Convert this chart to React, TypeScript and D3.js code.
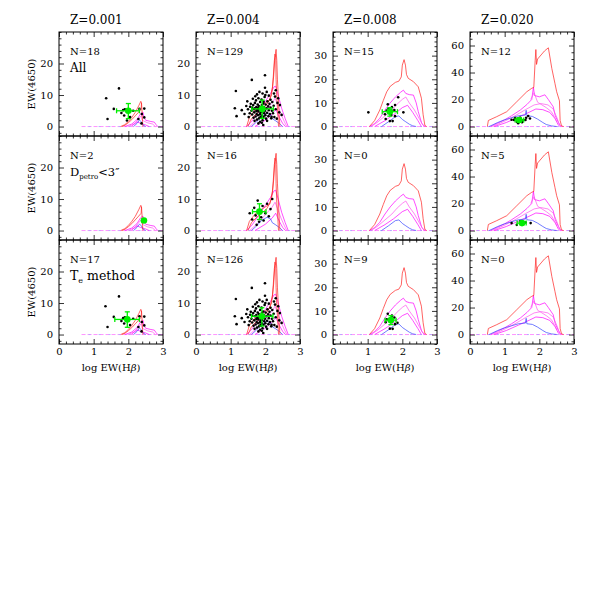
import { useEffect, useRef } from "react";
import * as d3 from "d3";

type Pt = [number, number];
type Mean = { x: number; y: number; x0: number; x1: number; y0: number; y1: number } | null;

// column titles and axis setup
const titles = ["Z=0.001", "Z=0.004", "Z=0.008", "Z=0.020"];
const yDomains: [number, number][] = [[-3, 30], [-3, 30], [-4, 40], [-7, 70]];
const yMajorTicks = [[0, 10, 20], [0, 10, 20], [0, 10, 20, 30], [0, 20, 40, 60]];
const yMinorSteps = [2, 2, 2, 5];
const xMajorTicks = [0, 1, 2, 3];
const sampleCounts = [
  [18, 129, 15, 12],
  [2, 16, 0, 5],
  [17, 126, 9, 0],
];

// model tracks, Z=0.001
const red001: Pt[] = [[1.78, 0], [1.9, 0.6], [2.0, 1.6], [2.1, 2.9], [2.2, 4.5], [2.3, 6.6], [2.36, 8.0], [2.38, 7.5], [2.37, 5.5], [2.3, 4.6], [2.2, 3.4], [2.1, 2.2], [2.0, 1.2], [1.9, 0.4], [1.82, 0]];
const red001b: Pt[] = [[2.38, 7.5], [2.4, 4], [2.41, 1.5], [2.42, 0]];
const mag001a: Pt[] = [[1.9, 0], [2.1, 0.8], [2.25, 2.2], [2.35, 4.0], [2.42, 4.6], [2.45, 3], [2.5, 2], [2.65, 1.6], [2.75, 1.4], [2.8, 0.6], [2.85, 0]];
const mag001b: Pt[] = [[2.0, 0], [2.2, 1], [2.3, 2.5], [2.38, 3.5], [2.4, 2], [2.55, 1.2], [2.7, 0.8], [2.78, 0]];
const mag001c: Pt[] = [[2.1, 0.2], [2.25, 1.5], [2.35, 1.0], [2.5, 0.5], [2.6, 0]];
const blue001: Pt[] = [[2.15, 0], [2.25, 1], [2.32, 2], [2.38, 1.5], [2.42, 0.5], [2.5, 0]];
const base001: Pt[] = [[0.65, 0], [3, 0]];

// Z=0.004
const red004: Pt[] = [[1.46, 0], [1.54, 2.9], [1.7, 5.2], [1.94, 7.1], [2.13, 8.4], [2.21, 12.6], [2.26, 21], [2.31, 24.5], [2.33, 21], [2.35, 14.8], [2.38, 8.4], [2.4, 3.7], [2.42, 0]];
const red004b: Pt[] = [[1.5, 0], [1.6, 2.5], [1.75, 4.2], [2.05, 7.0], [2.18, 10], [2.24, 16], [2.28, 23], [2.3, 22], [2.31, 15], [2.33, 9], [2.36, 4], [2.38, 0]];
const mag004a: Pt[] = [[1.45, 0], [1.6, 1.5], [1.8, 4.7], [2.0, 8], [2.15, 10.5], [2.25, 12.6], [2.3, 12.8], [2.37, 10], [2.47, 5.8], [2.57, 2.6], [2.66, 0]];
const mag004b: Pt[] = [[1.55, 0], [1.8, 2.5], [2.0, 5], [2.2, 7.5], [2.28, 9], [2.35, 7], [2.45, 4], [2.55, 1.5], [2.62, 0]];
const mag004c: Pt[] = [[1.7, 0], [2.0, 2], [2.2, 4], [2.3, 5.5], [2.4, 3], [2.5, 1], [2.58, 0]];
const blue004: Pt[] = [[1.6, 0], [1.75, 1.5], [1.9, 3.3], [2.05, 4.2], [2.15, 3.7], [2.2, 2.5], [2.3, 1.8], [2.4, 1.0], [2.5, 0]];
const base004: Pt[] = [[0.15, 0], [3, 0]];

// Z=0.008
const red008: Pt[] = [[1.05, 0], [1.2, 2.5], [1.35, 7], [1.45, 11], [1.55, 14.7], [1.65, 17], [1.8, 18.7], [1.9, 19.2], [1.97, 21], [2.0, 26], [2.05, 28.3], [2.09, 26], [2.12, 22], [2.17, 20.4], [2.32, 19], [2.46, 16.8], [2.55, 12], [2.6, 5], [2.65, 0.5], [2.7, 0]];
const mag008a: Pt[] = [[1.05, 0], [1.2, 1.2], [1.35, 3.5], [1.5, 7], [1.65, 10], [1.8, 12.5], [1.95, 14.5], [2.03, 15.4], [2.1, 14], [2.2, 13.5], [2.32, 13.3], [2.4, 10], [2.46, 6.3], [2.56, 1.3], [2.65, 0]];
const mag008b: Pt[] = [[1.1, 0], [1.3, 2], [1.5, 4.5], [1.7, 7], [1.85, 9.5], [2.0, 11.5], [2.1, 12.5], [2.2, 10], [2.35, 7], [2.5, 3], [2.6, 0.5], [2.68, 0]];
const mag008c: Pt[] = [[1.2, 0], [1.5, 2.5], [1.75, 5], [2.0, 8], [2.15, 9], [2.3, 6], [2.45, 2.5], [2.55, 0]];
const blue008: Pt[] = [[1.4, 0], [1.6, 2], [1.8, 4.2], [1.9, 4.5], [2.0, 3], [2.1, 2], [2.2, 1], [2.3, 0.3], [2.4, 0]];
const base008: Pt[] = [[0, 0], [3, 0]];

// Z=0.020
const red020: Pt[] = [[0.5, 0], [0.53, 4.5], [0.77, 7.3], [1.06, 11], [1.35, 18.4], [1.64, 25.8], [1.78, 28.3], [1.84, 29], [1.88, 49], [1.9, 57], [1.92, 46], [1.95, 50], [2.05, 53], [2.15, 56], [2.26, 58.3], [2.36, 43], [2.45, 32], [2.5, 25.8], [2.58, 19], [2.6, 4.5], [2.64, 0.5], [2.7, 0]];
const mag020a: Pt[] = [[0.6, 0], [0.8, 2.5], [1.0, 5], [1.2, 8], [1.45, 12.2], [1.65, 16.5], [1.78, 20], [1.83, 29], [1.86, 23], [2.0, 22], [2.16, 23.5], [2.26, 20], [2.4, 14.7], [2.46, 8], [2.55, 3], [2.62, 0]];
const mag020b: Pt[] = [[0.65, 0], [1.0, 4], [1.3, 8], [1.6, 12.5], [1.85, 16], [2.05, 17], [2.25, 16], [2.4, 13], [2.5, 7], [2.58, 1.5], [2.65, 0]];
const mag020c: Pt[] = [[0.7, 0], [1.05, 3], [1.4, 7], [1.7, 10.5], [1.9, 13], [2.1, 12.5], [2.3, 10.5], [2.45, 6], [2.55, 1], [2.6, 0]];
const mag020d: Pt[] = [[1.75, 20], [1.85, 25], [1.95, 18], [2.2, 14], [2.35, 11], [2.5, 4]];
const blue020: Pt[] = [[0.55, 0], [0.8, 3], [1.0, 5], [1.2, 6.5], [1.4, 8], [1.6, 8.5], [1.62, 12], [1.64, 8], [1.8, 7.5], [1.95, 5.5], [2.1, 3], [2.2, 1.5], [2.35, 0.5], [2.5, 0]];
const base020: Pt[] = [[0, 0], [3, 0]];

// observed galaxies
const pts001All: Pt[] = [[1.36, 9.0], [1.73, 12.1], [1.40, 2.4], [1.58, 5.6], [1.90, 5.5], [1.96, 4.6], [1.88, 3.5], [1.80, 4.3], [1.96, 1.9], [2.14, 5.0], [2.32, 5.6], [2.46, 5.7], [2.39, 4.0], [2.29, 2.4], [2.46, 2.9], [2.05, 3.0], [1.85, 5.2], [2.38, 1.0]];
const pts001Petro: Pt[] = [[2.42, 3.5], [2.48, 2.9]];
const pts001Te: Pt[] = [[1.34, 9.0], [1.73, 12.1], [1.40, 2.4], [1.58, 5.6], [1.90, 5.5], [1.96, 4.6], [1.88, 3.5], [1.80, 4.3], [2.14, 5.0], [2.32, 5.8], [2.46, 5.7], [2.39, 4.0], [2.29, 2.4], [2.46, 2.9], [2.05, 3.0], [1.85, 5.2], [2.38, 1.0]];

const pts004All: Pt[] = [
  [1.15, 11.3], [1.12, 5.8], [1.17, 3.3], [1.32, 5.2], [1.61, 14.8], [1.99, 16.3], [1.99, 12.3], [2.04, 11.0],
  [2.28, 9.5], [2.37, 9.0], [2.42, 6.8], [2.47, 3.7], [2.18, 3.1], [1.85, 1.5], [1.94, 0.5], [1.56, 6.3],
  [2.3, 11.5], [2.25, 10.5], [2.35, 7.5], [2.4, 4.5], [1.4, 4.0], [1.45, 6.5], [2.1, 9.8], [2.15, 8.5],
  [1.6, 5.0], [1.62, 3.8], [1.65, 6.8], [1.66, 2.8], [1.68, 4.5], [1.7, 7.5], [1.7, 5.8], [1.72, 3.2],
  [1.73, 8.3], [1.74, 6.2], [1.75, 4.0], [1.76, 2.2], [1.77, 5.3], [1.78, 7.0], [1.79, 3.6], [1.8, 9.0],
  [1.8, 4.8], [1.81, 6.5], [1.82, 2.6], [1.83, 5.6], [1.84, 3.9], [1.85, 7.8], [1.86, 4.4], [1.87, 6.0],
  [1.88, 2.9], [1.88, 5.0], [1.89, 8.6], [1.9, 3.5], [1.9, 6.8], [1.91, 4.6], [1.92, 2.0], [1.93, 5.4],
  [1.94, 7.3], [1.95, 3.1], [1.96, 6.2], [1.97, 4.2], [1.98, 9.4], [1.99, 5.0], [2.0, 3.6], [2.01, 7.0],
  [2.02, 2.5], [2.03, 5.8], [2.05, 4.4], [2.06, 8.0], [2.08, 6.4], [2.09, 3.3], [2.1, 5.2], [2.12, 7.2],
  [2.13, 4.0], [2.15, 6.0], [2.17, 2.6], [2.19, 5.0], [2.2, 7.8], [2.22, 4.2], [2.24, 6.6], [1.58, 7.2],
  [1.55, 4.2], [1.52, 3.0], [1.64, 8.8], [1.69, 1.8], [1.71, 9.6], [1.76, 10.2], [1.83, 11.0], [1.92, 10.5],
  [2.0, 10.0], [1.5, 5.5], [1.48, 8.0], [1.62, 6.0], [1.74, 4.9], [1.86, 3.0], [1.9, 1.2], [1.8, 1.0],
  [2.05, 1.8], [2.26, 3.0], [2.3, 5.5], [2.33, 2.5], [1.78, 5.9], [1.95, 7.9], [1.67, 5.5],
];
const pts004Petro: Pt[] = [[1.55, 5.5], [1.62, 3.5], [1.68, 7.2], [1.72, 4.8], [1.78, 9.5], [1.82, 2.8], [1.85, 6.0], [1.88, 4.2], [1.92, 7.8], [1.95, 3.2], [2.0, 5.5], [2.05, 8.5], [2.1, 4.5], [2.15, 6.8], [1.75, 1.8], [2.2, 10.0]];
const pts004Te: Pt[] = pts004All.slice(0, -3);

const pts008All: Pt[] = [[1.02, 6.0], [1.88, 12.4], [2.03, 6.0], [1.5, 5.2], [1.52, 3.2], [1.64, 2.3], [1.72, 2.3], [1.79, 9.1], [1.58, 9.4], [1.77, 7.0], [1.79, 4.4], [1.6, 7.5], [1.68, 5.0], [1.55, 6.8], [1.7, 8.2]];
const pts008Petro: Pt[] = [];
const pts008Te: Pt[] = [[1.52, 5.2], [1.58, 8.8], [1.64, 2.5], [1.72, 2.4], [1.79, 4.4], [1.77, 7.2], [1.86, 5.0], [1.55, 6.5], [1.7, 8.0]];

const pts020All: Pt[] = [[1.27, 4.8], [1.39, 2.4], [1.54, 4.8], [1.62, 6.5], [1.68, 7.8], [1.73, 6.0], [1.3, 6.2], [1.45, 6.5], [1.2, 5.0], [1.5, 3.2], [1.35, 3.5], [1.6, 4.8]];
const pts020Petro: Pt[] = [[1.2, 5.5], [1.35, 4.2], [1.6, 6.0], [1.75, 5.5], [1.45, 6.8]];
const pts020Te: Pt[] = [];

// sample means with spread
const means001: Mean[] = [
  { x: 2.0, y: 5.0, x0: 1.66, x1: 2.32, y0: 2.5, y1: 7.3 },
  { x: 2.45, y: 3.2, x0: 2.45, x1: 2.45, y0: 3.2, y1: 3.2 },
  { x: 1.97, y: 4.8, x0: 1.61, x1: 2.32, y0: 2.3, y1: 7.2 },
];
const means004: Mean[] = [
  { x: 1.91, y: 5.6, x0: 1.61, x1: 2.23, y0: 2.6, y1: 8.4 },
  { x: 1.83, y: 6.0, x0: 1.63, x1: 2.02, y0: 3.5, y1: 8.5 },
  { x: 1.9, y: 5.8, x0: 1.6, x1: 2.22, y0: 2.7, y1: 8.5 },
];
const means008: Mean[] = [
  { x: 1.64, y: 6.3, x0: 1.42, x1: 1.86, y0: 4.4, y1: 8.0 },
  null,
  { x: 1.67, y: 6.1, x0: 1.5, x1: 1.82, y0: 4.2, y1: 8.0 },
];
const means020: Mean[] = [
  { x: 1.42, y: 4.8, x0: 1.3, x1: 1.55, y0: 3.2, y1: 6.4 },
  { x: 1.5, y: 5.5, x0: 1.36, x1: 1.62, y0: 4.3, y1: 6.6 },
  null,
];

const columns = [
  { red: [red001, red001b], mag: [mag001a, mag001b, mag001c], blue: [blue001], base: base001, pts: [pts001All, pts001Petro, pts001Te], means: means001 },
  { red: [red004, red004b], mag: [mag004a, mag004b, mag004c], blue: [blue004], base: base004, pts: [pts004All, pts004Petro, pts004Te], means: means004 },
  { red: [red008], mag: [mag008a, mag008b, mag008c], blue: [blue008], base: base008, pts: [pts008All, pts008Petro, pts008Te], means: means008 },
  { red: [red020], mag: [mag020a, mag020b, mag020c, mag020d], blue: [blue020], base: base020, pts: [pts020All, pts020Petro, pts020Te], means: means020 },
];

const FONT = "DejaVu Serif";
const panelW = 104;
const panelH = 104;
const left0 = 59;
const top0 = 32;
const colStep = 137;
const rowStep = 104;

const App = () => {
  const svgRef = useRef<SVGSVGElement>(null);

  useEffect(() => {
    if (!svgRef.current) return;
    const svg = d3.select(svgRef.current);
    svg.selectAll("*").remove();
    svg.append("rect").attr("width", 598).attr("height", 598).attr("fill", "white");

    svg
      .append("defs")
      .append("clipPath")
      .attr("id", "panelClip")
      .append("rect")
      .attr("width", panelW)
      .attr("height", panelH);

    const x = d3.scaleLinear().domain([0, 3]).range([0, panelW]);
    const xMinor = d3.range(0, 3.001, 0.2).filter((v) => !xMajorTicks.some((m) => Math.abs(m - v) < 1e-6));

    columns.forEach((col, c) => {
      const [d0, d1] = yDomains[c];
      const y = d3.scaleLinear().domain([d0, d1]).range([panelH, 0]);
      const step = yMinorSteps[c];
      const yMinor = d3
        .range(Math.ceil(d0 / step) * step, d1 + 0.001, step)
        .filter((v) => !yMajorTicks[c].includes(v));
      const line = d3.line<Pt>().x((d) => x(d[0])).y((d) => y(d[1]));
      const px = left0 + c * colStep;

      svg
        .append("text")
        .attr("x", px + 11)
        .attr("y", 24)
        .attr("font-family", FONT)
        .attr("font-size", 12)
        .text(titles[c]);

      for (let r = 0; r < 3; r++) {
        const py = top0 + r * rowStep;
        const g = svg.append("g").attr("transform", `translate(${px},${py})`);
        const plot = g.append("g").attr("clip-path", "url(#panelClip)");

        // baseline
        plot.append("path").attr("d", line(col.base)).attr("fill", "none").attr("stroke", "#ff77ff").attr("stroke-width", 0.8).attr("stroke-dasharray", "4,2");
        plot.append("path").attr("d", line(col.base)).attr("fill", "none").attr("stroke", "#aaaaff").attr("stroke-width", 0.8).attr("stroke-dasharray", "2,8").attr("stroke-dashoffset", 3);

        col.mag.forEach((m, i) => {
          plot.append("path").attr("d", line(m)).attr("fill", "none").attr("stroke", i % 2 ? "#ff55ee" : "#ff00ff").attr("stroke-width", 0.7);
        });
        col.blue.forEach((b) => {
          plot.append("path").attr("d", line(b)).attr("fill", "none").attr("stroke", "#3344ff").attr("stroke-width", 0.7);
        });
        col.red.forEach((rd) => {
          plot.append("path").attr("d", line(rd)).attr("fill", "none").attr("stroke", "#ff2020").attr("stroke-width", 0.7);
        });

        plot
          .append("g")
          .selectAll("circle")
          .data(col.pts[r])
          .join("circle")
          .attr("cx", (d) => x(d[0]))
          .attr("cy", (d) => y(d[1]))
          .attr("r", 1.3)
          .attr("fill", "black");

        const m = col.means[r];
        if (m) {
          const eg = plot.append("g").attr("stroke", "#00ee00").attr("stroke-width", 1.3);
          if (m.x1 > m.x0) {
            eg.append("line").attr("x1", x(m.x0)).attr("x2", x(m.x1)).attr("y1", y(m.y)).attr("y2", y(m.y));
            [m.x0, m.x1].forEach((v) => eg.append("line").attr("x1", x(v)).attr("x2", x(v)).attr("y1", y(m.y) - 2.5).attr("y2", y(m.y) + 2.5));
          }
          if (m.y1 > m.y0) {
            eg.append("line").attr("x1", x(m.x)).attr("x2", x(m.x)).attr("y1", y(m.y0)).attr("y2", y(m.y1));
            [m.y0, m.y1].forEach((v) => eg.append("line").attr("x1", x(m.x) - 2.5).attr("x2", x(m.x) + 2.5).attr("y1", y(v)).attr("y2", y(v)));
          }
          plot.append("circle").attr("cx", x(m.x)).attr("cy", y(m.y)).attr("r", 3.3).attr("fill", "#00ee00");
        }

        // ticks on all four sides, pointing in
        const addAxis = (axis: d3.Axis<d3.NumberValue>, tx: number, ty: number, labels: boolean) => {
          const ag = g.append("g").attr("transform", `translate(${tx},${ty})`).call(axis);
          ag.select(".domain").remove();
          ag.selectAll("line").attr("stroke-width", 0.8);
          if (!labels) ag.selectAll("text").remove();
          else ag.selectAll("text").attr("font-family", FONT).attr("font-size", 10).attr("fill", "black");
        };
        addAxis(d3.axisLeft(y).tickValues(yMajorTicks[c]).tickSize(-5).tickSizeOuter(0).tickPadding(6).tickFormat(d3.format("d")), 0, 0, true);
        addAxis(d3.axisLeft(y).tickValues(yMinor).tickSize(-2.5).tickSizeOuter(0), 0, 0, false);
        addAxis(d3.axisRight(y).tickValues(yMajorTicks[c]).tickSize(-5).tickSizeOuter(0), panelW, 0, false);
        addAxis(d3.axisRight(y).tickValues(yMinor).tickSize(-2.5).tickSizeOuter(0), panelW, 0, false);
        addAxis(d3.axisBottom(x).tickValues(xMajorTicks).tickSize(-5).tickSizeOuter(0).tickPadding(4).tickFormat(d3.format("d")), 0, panelH, r === 2);
        addAxis(d3.axisBottom(x).tickValues(xMinor).tickSize(-2.5).tickSizeOuter(0), 0, panelH, false);
        addAxis(d3.axisTop(x).tickValues(xMajorTicks).tickSize(-5).tickSizeOuter(0), 0, 0, false);
        addAxis(d3.axisTop(x).tickValues(xMinor).tickSize(-2.5).tickSizeOuter(0), 0, 0, false);

        g.append("rect").attr("width", panelW).attr("height", panelH).attr("fill", "none").attr("stroke", "black").attr("stroke-width", 1);

        // panel labels
        g.append("text").attr("x", 11).attr("y", 23).attr("font-family", FONT).attr("font-size", 10).text(`N=${sampleCounts[r][c]}`);
        if (c === 0) {
          const lab = g.append("text").attr("x", 11).attr("y", 40).attr("font-family", FONT);
          if (r === 0) lab.attr("font-size", 12).text("All");
          if (r === 1) {
            lab.append("tspan").attr("font-size", 11.5).text("D");
            lab.append("tspan").attr("font-size", 7).attr("dy", 3).text("petro");
            lab.append("tspan").attr("font-size", 11.5).attr("dy", -3).text("<3″");
          }
          if (r === 2) {
            lab.append("tspan").attr("font-size", 12.5).text("T");
            lab.append("tspan").attr("font-size", 8).attr("dy", 3).text("e");
            lab.append("tspan").attr("font-size", 12.5).attr("dy", -3).text(" method");
          }
          svg
            .append("text")
            .attr("transform", `translate(35,${py + panelH / 2}) rotate(-90)`)
            .attr("text-anchor", "middle")
            .attr("font-family", FONT)
            .attr("font-size", 10)
            .text("EW(4650)");
        }
      }

      const xt = svg
        .append("text")
        .attr("x", px + panelW / 2)
        .attr("y", top0 + 3 * rowStep + 27)
        .attr("text-anchor", "middle")
        .attr("font-family", FONT)
        .attr("font-size", 10);
      xt.append("tspan").text("log EW(H");
      xt.append("tspan").attr("font-style", "italic").text("β");
      xt.append("tspan").text(")");
    });
  }, []);

  return <svg ref={svgRef} width={598} height={598} style={{ position: "absolute", left: 0, top: 0 }} />;
};

export default App;
